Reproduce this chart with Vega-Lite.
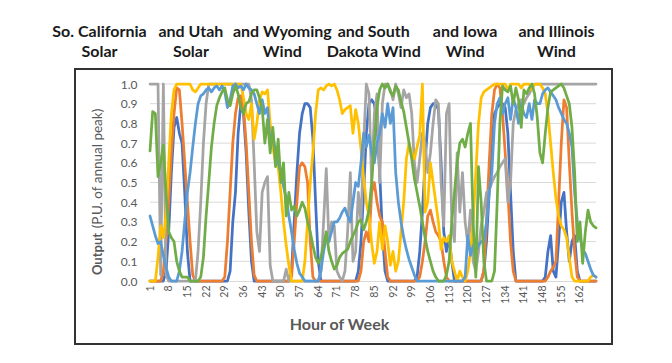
{
"$schema": "https://vega.github.io/schema/vega-lite/v6.json",
"padding": {"left": 52, "top": 22, "right": 60, "bottom": 20},
"spacing": 6,
"config": {"view": {"stroke": "#333333", "strokeWidth": 2}, "font": "Lato"},
"vconcat": [
{
"width": 506, "height": 40,
"view": {"stroke": null},
"data": {"values": [
{"top": "So. California", "bottom": "Solar"},
{"top": "and Utah", "bottom": "Solar"},
{"top": "and Wyoming", "bottom": "Wind"},
{"top": "and South", "bottom": "Dakota Wind"},
{"top": "and Iowa", "bottom": "Wind"},
{"top": "and Illinois", "bottom": "Wind"}
]},
"encoding": {
"x": {"field": "top", "type": "nominal", "sort": null, "scale": {"type": "point", "padding": 0.268}, "axis": null}
},
"layer": [
{"mark": {"type": "text", "fontWeight": "bold", "fontSize": 16, "color": "#1a1a1a", "baseline": "middle", "dy": -10},
 "encoding": {"text": {"field": "top"}}},
{"mark": {"type": "text", "fontWeight": "bold", "fontSize": 16, "color": "#1a1a1a", "baseline": "middle", "dy": 10},
 "encoding": {"text": {"field": "bottom"}}}
]
},
{
"width": 537, "height": 275,
"layer": [
{
"data": {"values": [{"g":0.1},{"g":0.2},{"g":0.3},{"g":0.4},{"g":0.5},{"g":0.6},{"g":0.7},{"g":0.8},{"g":0.9},{"g":1}]},
"mark": {"type": "rule", "color": "#D9D9D9", "strokeWidth": 1},
"encoding": {
"x": {"datum": 1, "type": "quantitative",
 "scale": {"domain": [1,168], "range": [75,521], "nice": false, "zero": false},
 "axis": {"values": [1,8,15,22,29,36,43,50,57,64,71,78,85,92,99,106,113,120,127,134,141,148,155,162],
  "labelAngle": -90, "labelFontSize": 10.5, "labelColor": "#595959", "labelPadding": 4, "labelFlush": false, "labelOverlap": false,
  "ticks": false, "domainColor": "#D9D9D9", "domainWidth": 1, "grid": false, "offset": -63,
  "title": "Hour of Week", "titleFontSize": 16, "titleFontWeight": "bold", "titleColor": "#595959",
  "titleX": 264, "titleY": 43, "titleBaseline": "middle", "titleAlign": "center"}},
"x2": {"datum": 168},
"y": {"field": "g", "type": "quantitative",
 "scale": {"domain": [0,1], "range": [212,15], "nice": false, "zero": false},
 "axis": {"orient": "left", "offset": -75, "labels": false, "ticks": false, "domain": false, "grid": false,
  "title": "(P.U. of annual peak)", "titleFontSize": 13.5, "titleFontWeight": "normal", "titleColor": "#595959",
  "titleX": -53, "titleY": 99, "titleAngle": -90, "titleBaseline": "middle", "titleAlign": "center"}}
}
},
{
"data": {"values": [
{"h":1,"CA":0,"UT":0,"WY":1,"SD":0,"IA":0.33,"IL":0.66},
{"h":2,"CA":0,"UT":0,"WY":1,"SD":0,"IA":0.28,"IL":0.86},
{"h":3,"CA":0,"UT":0,"WY":1,"SD":0,"IA":0.23,"IL":0.85},
{"h":4,"CA":0,"UT":0,"WY":1,"SD":0.12,"IA":0.19,"IL":0.53},
{"h":5,"CA":0,"UT":0,"WY":0.03,"SD":0.28,"IA":0.2,"IL":0.6},
{"h":6,"CA":0,"UT":0.05,"WY":1,"SD":0.22,"IA":0.13,"IL":0.69},
{"h":7,"CA":0.05,"UT":0.2,"WY":0.03,"SD":0.33,"IA":0.07,"IL":0.45},
{"h":8,"CA":0.25,"UT":0.4,"WY":0,"SD":0.6,"IA":0.02,"IL":0.25},
{"h":9,"CA":0.55,"UT":0.65,"WY":0,"SD":0.85,"IA":0,"IL":0.22},
{"h":10,"CA":0.78,"UT":0.85,"WY":0,"SD":0.97,"IA":0,"IL":0.2},
{"h":11,"CA":0.83,"UT":0.98,"WY":0,"SD":1,"IA":0,"IL":0.1},
{"h":12,"CA":0.75,"UT":0.97,"WY":0,"SD":1,"IA":0.05,"IL":0.05},
{"h":13,"CA":0.7,"UT":0.8,"WY":0,"SD":1,"IA":0.15,"IL":0.02},
{"h":14,"CA":0.45,"UT":0.6,"WY":0,"SD":1,"IA":0.3,"IL":0.02},
{"h":15,"CA":0.15,"UT":0.4,"WY":0,"SD":1,"IA":0.45,"IL":0.02},
{"h":16,"CA":0,"UT":0.2,"WY":0,"SD":1,"IA":0.55,"IL":0},
{"h":17,"CA":0,"UT":0.03,"WY":0,"SD":0.97,"IA":0.68,"IL":0},
{"h":18,"CA":0,"UT":0,"WY":0,"SD":0.96,"IA":0.8,"IL":0},
{"h":19,"CA":0,"UT":0,"WY":0.15,"SD":0.98,"IA":0.9,"IL":0},
{"h":20,"CA":0,"UT":0,"WY":0.4,"SD":1,"IA":0.94,"IL":0.02},
{"h":21,"CA":0,"UT":0,"WY":0.7,"SD":1,"IA":0.95,"IL":0.12},
{"h":22,"CA":0,"UT":0,"WY":0.9,"SD":1,"IA":0.97,"IL":0.33},
{"h":23,"CA":0,"UT":0,"WY":1,"SD":1,"IA":0.98,"IL":0.5},
{"h":24,"CA":0,"UT":0,"WY":1,"SD":1,"IA":0.96,"IL":0.68},
{"h":25,"CA":0,"UT":0,"WY":1,"SD":1,"IA":0.98,"IL":0.8},
{"h":26,"CA":0,"UT":0,"WY":1,"SD":1,"IA":0.99,"IL":0.89},
{"h":27,"CA":0,"UT":0,"WY":1,"SD":1,"IA":0.97,"IL":0.93},
{"h":28,"CA":0,"UT":0,"WY":1,"SD":1,"IA":0.99,"IL":0.96},
{"h":29,"CA":0,"UT":0.02,"WY":1,"SD":1,"IA":0.96,"IL":0.98},
{"h":30,"CA":0,"UT":0.2,"WY":1,"SD":1,"IA":0.88,"IL":0.92},
{"h":31,"CA":0.05,"UT":0.45,"WY":1,"SD":1,"IA":0.92,"IL":0.89},
{"h":32,"CA":0.3,"UT":0.7,"WY":1,"SD":1,"IA":0.99,"IL":0.95},
{"h":33,"CA":0.45,"UT":0.85,"WY":1,"SD":1,"IA":1,"IL":0.99},
{"h":34,"CA":0.75,"UT":0.93,"WY":1,"SD":1,"IA":0.98,"IL":0.95},
{"h":35,"CA":0.9,"UT":0.94,"WY":1,"SD":1,"IA":0.99,"IL":0.88},
{"h":36,"CA":0.85,"UT":0.88,"WY":1,"SD":0.93,"IA":0.97,"IL":0.85},
{"h":37,"CA":0.65,"UT":0.7,"WY":1,"SD":0.85,"IA":1,"IL":0.9},
{"h":38,"CA":0.35,"UT":0.45,"WY":1,"SD":0.82,"IA":0.98,"IL":0.91},
{"h":39,"CA":0.1,"UT":0.2,"WY":0.92,"SD":0.9,"IA":0.97,"IL":0.95},
{"h":40,"CA":0,"UT":0.03,"WY":0.6,"SD":0.72,"IA":0.95,"IL":0.97},
{"h":41,"CA":0,"UT":0,"WY":0.25,"SD":0.8,"IA":0.9,"IL":0.97},
{"h":42,"CA":0,"UT":0,"WY":0.15,"SD":0.92,"IA":0.85,"IL":0.93},
{"h":43,"CA":0,"UT":0,"WY":0.45,"SD":0.96,"IA":0.92,"IL":0.88},
{"h":44,"CA":0,"UT":0,"WY":0.5,"SD":0.95,"IA":0.85,"IL":0.7},
{"h":45,"CA":0,"UT":0,"WY":0.53,"SD":0.97,"IA":0.88,"IL":0.82},
{"h":46,"CA":0,"UT":0,"WY":0.08,"SD":0.8,"IA":0.7,"IL":0.65},
{"h":47,"CA":0,"UT":0,"WY":0,"SD":0.68,"IA":0.75,"IL":0.78},
{"h":48,"CA":0,"UT":0,"WY":0,"SD":0.6,"IA":0.65,"IL":0.58},
{"h":49,"CA":0,"UT":0,"WY":0,"SD":0.58,"IA":0.6,"IL":0.72},
{"h":50,"CA":0,"UT":0,"WY":0,"SD":0.45,"IA":0.55,"IL":0.5},
{"h":51,"CA":0,"UT":0,"WY":0,"SD":0.3,"IA":0.48,"IL":0.6},
{"h":52,"CA":0,"UT":0,"WY":0.06,"SD":0.18,"IA":0.42,"IL":0.33},
{"h":53,"CA":0,"UT":0,"WY":0,"SD":0.08,"IA":0.33,"IL":0.45},
{"h":54,"CA":0.05,"UT":0.02,"WY":0,"SD":0,"IA":0.25,"IL":0.36},
{"h":55,"CA":0.3,"UT":0.2,"WY":0,"SD":0,"IA":0.16,"IL":0.38},
{"h":56,"CA":0.55,"UT":0.4,"WY":0,"SD":0,"IA":0.09,"IL":0.33},
{"h":57,"CA":0.75,"UT":0.58,"WY":0,"SD":0,"IA":0.04,"IL":0.36},
{"h":58,"CA":0.85,"UT":0.6,"WY":0,"SD":0,"IA":0.02,"IL":0.4},
{"h":59,"CA":0.9,"UT":0.58,"WY":0,"SD":0.1,"IA":0,"IL":0.37},
{"h":60,"CA":0.9,"UT":0.5,"WY":0,"SD":0.3,"IA":0,"IL":0.3},
{"h":61,"CA":0.88,"UT":0.2,"WY":0,"SD":0.5,"IA":0,"IL":0.25},
{"h":62,"CA":0.72,"UT":0.02,"WY":0,"SD":0.65,"IA":0,"IL":0.18},
{"h":63,"CA":0.4,"UT":0,"WY":0,"SD":0.85,"IA":0,"IL":0.12},
{"h":64,"CA":0.1,"UT":0,"WY":0,"SD":0.97,"IA":0,"IL":0.09},
{"h":65,"CA":0,"UT":0,"WY":0.05,"SD":0.98,"IA":0.05,"IL":0.12},
{"h":66,"CA":0,"UT":0,"WY":0.3,"SD":0.97,"IA":0.15,"IL":0.18},
{"h":67,"CA":0,"UT":0,"WY":0.57,"SD":0.99,"IA":0.22,"IL":0.25},
{"h":68,"CA":0,"UT":0,"WY":0.2,"SD":1,"IA":0.2,"IL":0.15},
{"h":69,"CA":0,"UT":0,"WY":0.3,"SD":0.99,"IA":0.25,"IL":0.1},
{"h":70,"CA":0,"UT":0,"WY":0.28,"SD":1,"IA":0.3,"IL":0.06},
{"h":71,"CA":0,"UT":0,"WY":0.05,"SD":0.97,"IA":0.3,"IL":0.08},
{"h":72,"CA":0,"UT":0,"WY":0.02,"SD":0.92,"IA":0.32,"IL":0.12},
{"h":73,"CA":0,"UT":0,"WY":0,"SD":0.85,"IA":0.35,"IL":0.14},
{"h":74,"CA":0,"UT":0,"WY":0.05,"SD":0.87,"IA":0.37,"IL":0.15},
{"h":75,"CA":0,"UT":0,"WY":0.25,"SD":0.88,"IA":0.33,"IL":0.16},
{"h":76,"CA":0,"UT":0,"WY":0.55,"SD":0.89,"IA":0.3,"IL":0.2},
{"h":77,"CA":0,"UT":0,"WY":0.1,"SD":0.75,"IA":0.4,"IL":0.23},
{"h":78,"CA":0,"UT":0,"WY":0.15,"SD":0.87,"IA":0.5,"IL":0.26},
{"h":79,"CA":0.05,"UT":0,"WY":0.45,"SD":0.8,"IA":0.48,"IL":0.3},
{"h":80,"CA":0.2,"UT":0.05,"WY":0.3,"SD":0.67,"IA":0.6,"IL":0.31},
{"h":81,"CA":0.45,"UT":0.2,"WY":0.7,"SD":0.52,"IA":0.75,"IL":0.26},
{"h":82,"CA":0.75,"UT":0.25,"WY":1,"SD":0.4,"IA":0.68,"IL":0.3},
{"h":83,"CA":0.9,"UT":0.2,"WY":0.95,"SD":0.33,"IA":0.74,"IL":0.36},
{"h":84,"CA":0.92,"UT":0.45,"WY":0.5,"SD":0.19,"IA":0.65,"IL":0.5},
{"h":85,"CA":0.9,"UT":0.5,"WY":0.85,"SD":0.09,"IA":0.6,"IL":0.7},
{"h":86,"CA":0.8,"UT":0.4,"WY":0.95,"SD":0.15,"IA":0.7,"IL":0.88},
{"h":87,"CA":0.55,"UT":0.33,"WY":0.5,"SD":0.3,"IA":0.75,"IL":0.97},
{"h":88,"CA":0.25,"UT":0.3,"WY":0.9,"SD":0.16,"IA":0.85,"IL":1},
{"h":89,"CA":0.05,"UT":0.15,"WY":1,"SD":0.28,"IA":0.78,"IL":0.98},
{"h":90,"CA":0,"UT":0.02,"WY":1,"SD":0.2,"IA":0.9,"IL":1},
{"h":91,"CA":0,"UT":0,"WY":0.97,"SD":0.08,"IA":0.8,"IL":0.96},
{"h":92,"CA":0,"UT":0,"WY":0.92,"SD":0.15,"IA":0.88,"IL":0.94},
{"h":93,"CA":0,"UT":0,"WY":1,"SD":0.05,"IA":0.55,"IL":0.99},
{"h":94,"CA":0,"UT":0,"WY":0.95,"SD":0.1,"IA":0.4,"IL":0.97},
{"h":95,"CA":0,"UT":0,"WY":0.88,"SD":0.25,"IA":0.3,"IL":0.91},
{"h":96,"CA":0,"UT":0,"WY":0.97,"SD":0.4,"IA":0.22,"IL":0.86},
{"h":97,"CA":0,"UT":0,"WY":0.93,"SD":0.62,"IA":0.16,"IL":0.78},
{"h":98,"CA":0,"UT":0,"WY":0.95,"SD":0.7,"IA":0.11,"IL":0.7},
{"h":99,"CA":0,"UT":0,"WY":0.85,"SD":0.65,"IA":0.07,"IL":0.62},
{"h":100,"CA":0,"UT":0,"WY":0.6,"SD":0.62,"IA":0.03,"IL":0.52},
{"h":101,"CA":0.02,"UT":0,"WY":0.5,"SD":0.68,"IA":0,"IL":0.45},
{"h":102,"CA":0.15,"UT":0.02,"WY":0.62,"SD":0.74,"IA":0,"IL":0.38},
{"h":103,"CA":0.35,"UT":0.1,"WY":0.75,"SD":1,"IA":0,"IL":0.3},
{"h":104,"CA":0.6,"UT":0.2,"WY":0.7,"SD":0.35,"IA":0,"IL":0.22},
{"h":105,"CA":0.8,"UT":0.33,"WY":0.55,"SD":0.4,"IA":0,"IL":0.15},
{"h":106,"CA":0.88,"UT":0.36,"WY":0.65,"SD":0.6,"IA":0,"IL":0.1},
{"h":107,"CA":0.9,"UT":0.3,"WY":0.8,"SD":0.5,"IA":0,"IL":0.05},
{"h":108,"CA":0.9,"UT":0.25,"WY":0.92,"SD":0.4,"IA":0,"IL":0.02},
{"h":109,"CA":0.87,"UT":0.23,"WY":0.9,"SD":0.3,"IA":0,"IL":0},
{"h":110,"CA":0.6,"UT":0.2,"WY":0.5,"SD":0.16,"IA":0,"IL":0},
{"h":111,"CA":0.25,"UT":0.1,"WY":0.28,"SD":0.22,"IA":0,"IL":0},
{"h":112,"CA":0.15,"UT":0.02,"WY":0.85,"SD":0.2,"IA":0,"IL":0.03},
{"h":113,"CA":0.22,"UT":0,"WY":0.9,"SD":0.23,"IA":0,"IL":0.1},
{"h":114,"CA":0.1,"UT":0,"WY":0.3,"SD":0.1,"IA":0,"IL":0.3},
{"h":115,"CA":0,"UT":0,"WY":0.2,"SD":0.05,"IA":0,"IL":0.45},
{"h":116,"CA":0,"UT":0,"WY":0.65,"SD":0,"IA":0,"IL":0.6},
{"h":117,"CA":0,"UT":0,"WY":0.35,"SD":0.05,"IA":0,"IL":0.7},
{"h":118,"CA":0,"UT":0,"WY":0.55,"SD":0.02,"IA":0,"IL":0.72},
{"h":119,"CA":0,"UT":0,"WY":0.3,"SD":0,"IA":0.02,"IL":0.68},
{"h":120,"CA":0,"UT":0,"WY":0.19,"SD":0.05,"IA":0.23,"IL":0.75},
{"h":121,"CA":0,"UT":0,"WY":0.36,"SD":0.15,"IA":0.13,"IL":0.8},
{"h":122,"CA":0,"UT":0,"WY":0.1,"SD":0.3,"IA":0.18,"IL":0.3},
{"h":123,"CA":0,"UT":0,"WY":0.05,"SD":0.55,"IA":0.15,"IL":0.02},
{"h":124,"CA":0,"UT":0,"WY":0.15,"SD":0.8,"IA":0.18,"IL":0.58},
{"h":125,"CA":0,"UT":0,"WY":0.28,"SD":0.93,"IA":0.2,"IL":0.4},
{"h":126,"CA":0.05,"UT":0.05,"WY":0.35,"SD":0.96,"IA":0.2,"IL":0.1},
{"h":127,"CA":0.2,"UT":0.3,"WY":0.45,"SD":0.97,"IA":0.3,"IL":0},
{"h":128,"CA":0.45,"UT":0.6,"WY":0.46,"SD":0.98,"IA":0.45,"IL":0},
{"h":129,"CA":0.7,"UT":0.85,"WY":0.5,"SD":0.99,"IA":0.55,"IL":0},
{"h":130,"CA":0.85,"UT":0.97,"WY":0.53,"SD":1,"IA":0.8,"IL":0.05},
{"h":131,"CA":0.88,"UT":1,"WY":0.55,"SD":1,"IA":0.9,"IL":0.4},
{"h":132,"CA":0.9,"UT":0.98,"WY":0.58,"SD":1,"IA":0.93,"IL":0.8},
{"h":133,"CA":0.9,"UT":0.85,"WY":0.6,"SD":1,"IA":0.85,"IL":0.99},
{"h":134,"CA":0.88,"UT":0.65,"WY":0.62,"SD":1,"IA":0.9,"IL":0.97},
{"h":135,"CA":0.75,"UT":0.45,"WY":0.4,"SD":0.97,"IA":0.93,"IL":0.96},
{"h":136,"CA":0.45,"UT":0.2,"WY":0.5,"SD":1,"IA":0.82,"IL":0.99},
{"h":137,"CA":0.15,"UT":0.05,"WY":0.8,"SD":1,"IA":0.93,"IL":0.9},
{"h":138,"CA":0,"UT":0,"WY":0.87,"SD":1,"IA":0.88,"IL":0.98},
{"h":139,"CA":0,"UT":0,"WY":0.9,"SD":1,"IA":0.8,"IL":0.92},
{"h":140,"CA":0,"UT":0,"WY":0.92,"SD":0.98,"IA":0.9,"IL":0.78},
{"h":141,"CA":0,"UT":0,"WY":0.9,"SD":1,"IA":0.85,"IL":0.97},
{"h":142,"CA":0,"UT":0,"WY":0.93,"SD":1,"IA":0.83,"IL":0.95},
{"h":143,"CA":0,"UT":0,"WY":0.95,"SD":1,"IA":0.9,"IL":0.98},
{"h":144,"CA":0,"UT":0,"WY":0.98,"SD":0.97,"IA":0.82,"IL":1},
{"h":145,"CA":0,"UT":0,"WY":1,"SD":1,"IA":0.92,"IL":0.95},
{"h":146,"CA":0,"UT":0,"WY":1,"SD":1,"IA":0.9,"IL":0.83},
{"h":147,"CA":0,"UT":0,"WY":1,"SD":1,"IA":0.9,"IL":0.65},
{"h":148,"CA":0,"UT":0,"WY":1,"SD":0.98,"IA":0.95,"IL":0.6},
{"h":149,"CA":0.02,"UT":0,"WY":1,"SD":0.95,"IA":0.97,"IL":0.75},
{"h":150,"CA":0.15,"UT":0.02,"WY":1,"SD":0.85,"IA":0.98,"IL":0.88},
{"h":151,"CA":0.23,"UT":0.05,"WY":1,"SD":0.7,"IA":0.96,"IL":0.96},
{"h":152,"CA":0.05,"UT":0.07,"WY":1,"SD":0.55,"IA":0.94,"IL":0.97},
{"h":153,"CA":0.02,"UT":0.1,"WY":1,"SD":0.42,"IA":0.92,"IL":0.98},
{"h":154,"CA":0.2,"UT":0.4,"WY":1,"SD":0.33,"IA":0.88,"IL":0.99},
{"h":155,"CA":0.4,"UT":0.7,"WY":1,"SD":0.28,"IA":0.85,"IL":1},
{"h":156,"CA":0.45,"UT":0.92,"WY":1,"SD":0.26,"IA":0.82,"IL":0.98},
{"h":157,"CA":0.25,"UT":0.88,"WY":1,"SD":0.22,"IA":0.8,"IL":0.94},
{"h":158,"CA":0.1,"UT":0.6,"WY":1,"SD":0.12,"IA":0.75,"IL":0.9},
{"h":159,"CA":0.2,"UT":0.35,"WY":1,"SD":0.02,"IA":0.68,"IL":0.78},
{"h":160,"CA":0.23,"UT":0.15,"WY":1,"SD":0,"IA":0.45,"IL":0.55},
{"h":161,"CA":0.05,"UT":0.02,"WY":1,"SD":0,"IA":0.3,"IL":0.2},
{"h":162,"CA":0,"UT":0,"WY":1,"SD":0,"IA":0.22,"IL":0.3},
{"h":163,"CA":0,"UT":0,"WY":1,"SD":0,"IA":0.16,"IL":0.09},
{"h":164,"CA":0,"UT":0,"WY":1,"SD":0,"IA":0.14,"IL":0.25},
{"h":165,"CA":0,"UT":0,"WY":1,"SD":0,"IA":0.1,"IL":0.36},
{"h":166,"CA":0,"UT":0,"WY":1,"SD":0.02,"IA":0.06,"IL":0.3},
{"h":167,"CA":0,"UT":0,"WY":1,"SD":0.03,"IA":0.03,"IL":0.28},
{"h":168,"CA":0,"UT":0,"WY":1,"SD":0.02,"IA":0.02,"IL":0.27}
]},
"transform": [{"fold": ["CA","UT","WY","SD","IA","IL"], "as": ["series","value"]}],
"mark": {"type": "line", "strokeWidth": 2.75, "strokeJoin": "round", "strokeCap": "round"},
"encoding": {
"x": {"field": "h", "type": "quantitative",
 "scale": {"domain": [1,168], "range": [75,521], "nice": false, "zero": false},
 "axis": {"values": [1,8,15,22,29,36,43,50,57,64,71,78,85,92,99,106,113,120,127,134,141,148,155,162],
  "labelAngle": -90, "labelFontSize": 10.5, "labelColor": "#595959", "labelPadding": 4, "labelFlush": false, "labelOverlap": false,
  "ticks": false, "domainColor": "#D9D9D9", "domainWidth": 1, "grid": false, "offset": -63,
  "title": "Hour of Week", "titleFontSize": 16, "titleFontWeight": "bold", "titleColor": "#595959",
  "titleX": 264, "titleY": 43, "titleBaseline": "middle", "titleAlign": "center"}},
"y": {"field": "value", "type": "quantitative",
 "scale": {"domain": [0,1], "range": [212,15], "nice": false, "zero": false},
 "axis": {"orient": "left", "values": [0,0.1,0.2,0.3,0.4,0.5,0.6,0.7,0.8,0.9,1], "format": ".1f",
  "labelFontSize": 12, "labelColor": "#595959", "labelPadding": 13, "labelFlush": false,
  "ticks": false, "domain": false, "grid": false, "offset": -75,
  "title": "Output", "titleFontSize": 13, "titleFontWeight": "bold", "titleColor": "#595959",
  "titleX": -53, "titleY": 184.5, "titleAngle": -90, "titleBaseline": "middle", "titleAlign": "center"}},
"color": {"field": "series", "type": "nominal",
 "scale": {"domain": ["CA","UT","WY","SD","IA","IL"], "range": ["#4472C4","#ED7D31","#A5A5A5","#FFC000","#5B9BD5","#70AD47"]},
 "legend": null}
}
}
],
"resolve": {"axis": {"y": "independent"}}
}
]
}
